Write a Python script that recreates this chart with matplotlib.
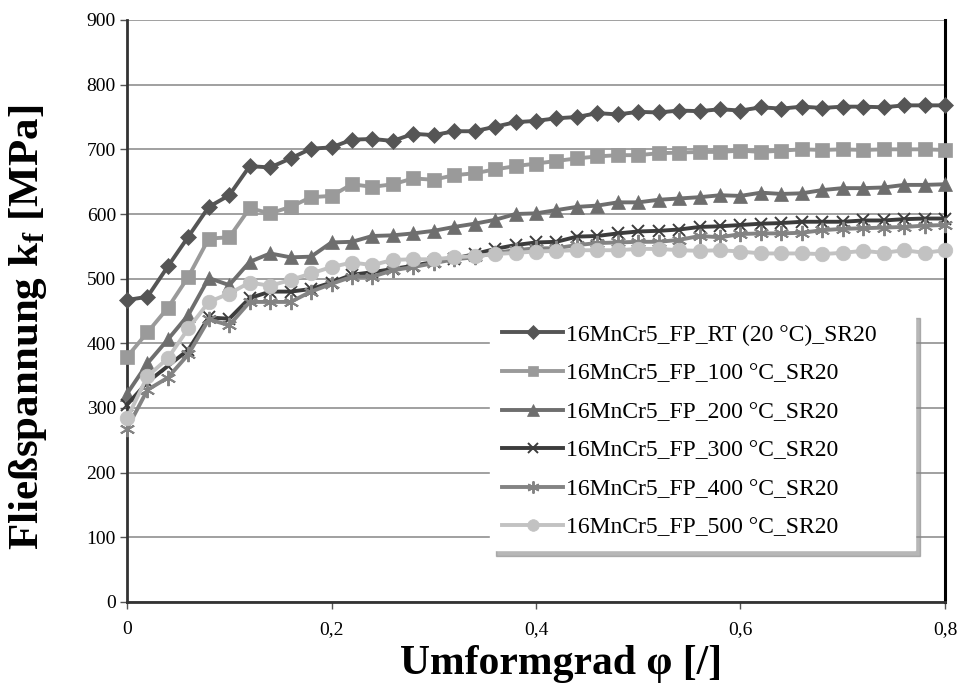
import matplotlib
matplotlib.use("Agg")
import matplotlib.pyplot as plt
import numpy as np

phi = [round(0.02 * i, 2) for i in range(41)]

kf_rt = [467, 472, 519, 565, 611, 629, 674, 672, 686, 701, 703, 715, 716, 713, 724,
         722, 728, 728, 735, 742, 744, 748, 750, 756, 754, 758, 757, 760, 759, 762,
         760, 765, 763, 766, 764, 766, 766, 765, 768, 768, 768]
kf_100 = [379, 417, 455, 503, 562, 564, 609, 601, 611, 626, 628, 646, 642, 646, 655,
          653, 660, 663, 669, 674, 678, 682, 686, 689, 691, 691, 694, 695, 696, 696,
          698, 696, 698, 700, 699, 700, 699, 700, 700, 700, 699]
kf_200 = [322, 369, 406, 444, 501, 490, 526, 539, 533, 534, 556, 557, 566, 567, 570,
          574, 580, 585, 591, 600, 601, 606, 611, 613, 618, 618, 622, 624, 626, 629,
          628, 633, 631, 632, 637, 640, 640, 641, 645, 645, 646]
kf_300 = [305, 340, 365, 390, 440, 438, 470, 480, 480, 484, 494, 506, 510, 515, 520,
          526, 531, 538, 546, 552, 556, 557, 565, 566, 570, 573, 574, 576, 580, 581,
          583, 585, 586, 588, 588, 588, 590, 590, 592, 593, 593]
kf_400 = [268, 328, 347, 383, 437, 428, 464, 464, 464, 480, 492, 503, 503, 513, 518,
          524, 530, 533, 540, 544, 547, 547, 552, 555, 556, 557, 557, 560, 566, 564,
          569, 570, 570, 571, 575, 577, 578, 579, 580, 582, 583]
kf_500 = [284, 349, 377, 423, 464, 477, 494, 489, 498, 508, 518, 525, 521, 529, 530,
          530, 533, 535, 538, 540, 542, 543, 544, 544, 544, 546, 546, 544, 543, 544,
          542, 539, 539, 539, 538, 540, 543, 540, 544, 540, 544]

labels = ["16MnCr5_FP_RT (20 °C)_SR20", "16MnCr5_FP_100 °C_SR20",
          "16MnCr5_FP_200 °C_SR20", "16MnCr5_FP_300 °C_SR20",
          "16MnCr5_FP_400 °C_SR20", "16MnCr5_FP_500 °C_SR20"]
series = [kf_rt, kf_100, kf_200, kf_300, kf_400, kf_500]

xticks = [0, 0.2, 0.4, 0.6, 0.8]
xtick_labels = ["0", "0,2", "0,4", "0,6", "0,8"]
yticks = list(range(0, 901, 100))

colors = ["#555555", "#9a9a9a", "#6e6e6e", "#3c3c3c", "#838383", "#c2c2c2"]
markers = ["D", "s", "^", "x", (6, 2, 0), "o"]
msizes = [8.5, 9.5, 10, 9, 11, 10.5]

plt.rcParams['font.family'] = ['Liberation Serif', 'DejaVu Serif']
plt.rcParams['mathtext.fontset'] = 'custom'
plt.rcParams['mathtext.rm'] = 'Liberation Serif'
plt.rcParams['mathtext.bf'] = 'Liberation Serif:bold'

fig = plt.figure(figsize=(9.62, 6.88), dpi=100)
ax = fig.add_axes([127/962, 1-602/688, (945-127)/962, (602-20)/688])

for y, lab, c, m, ms in zip(series, labels, colors, markers, msizes):
    ax.plot(phi, y, color=c, lw=2.8, marker=m, ms=ms, mfc=c, mec=c,
            mew=1.4 if m in ("x", (6, 2, 0)) else 0.5, label=lab, clip_on=False, zorder=3)

ax.set_xlim(0, 0.8)
ax.set_ylim(0, 900)
ax.set_xticks(xticks)
ax.set_xticklabels(xtick_labels)
ax.set_yticks(yticks)
ax.tick_params(axis='both', labelsize=14, direction='out', length=5, width=1,
               color='#555555')
ax.tick_params(axis='x', pad=9)
ax.tick_params(axis='y', pad=3)
ax.yaxis.grid(True, color='#a0a0a0', lw=1.4)
ax.set_axisbelow(True)

for s in ['left', 'bottom']:
    ax.spines[s].set_color('#333333')
    ax.spines[s].set_linewidth(2.0)
ax.spines['right'].set_color('black')
ax.spines['right'].set_linewidth(2.2)
ax.spines['top'].set_visible(False)

ax.set_xlabel("Umformgrad φ [/]", fontsize=30, fontweight='bold', va='center')
ax.xaxis.set_label_coords(0.531, -0.107)
ax.set_ylabel(r"Fließspannung k$_\mathbf{f}$ [MPa]", fontsize=31, fontweight='bold',
              va='center')
ax.yaxis.set_label_coords(-0.121, 0.4725)

leg = ax.legend(loc='lower left', bbox_to_anchor=(0.444, 0.089, 0.519, 0.413),
                mode='expand', borderaxespad=0,
                fontsize=17, frameon=True, fancybox=False, edgecolor='white',
                framealpha=1, shadow={'ox': 4, 'oy': -4, 'color': '#888888', 'alpha': 0.6},
                handlelength=2.6, handletextpad=0.1, labelspacing=0.72,
                borderpad=0.5, markerscale=0.8)
leg.set_zorder(5)

fig.savefig("out.png", dpi=100)
